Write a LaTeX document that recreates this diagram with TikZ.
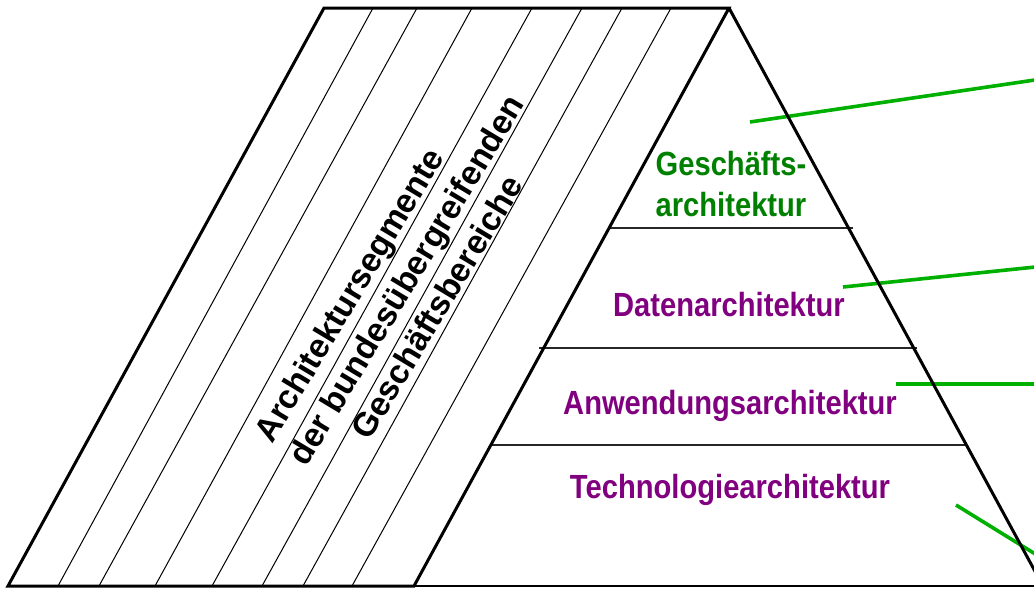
\documentclass[tikz,border=0pt]{standalone}
\usepackage{fontspec}
\setmainfont{Liberation Sans}
\definecolor{labgreen}{HTML}{008000}
\definecolor{labpurple}{HTML}{800080}
\definecolor{leadgreen}{HTML}{00B000}
\begin{document}
\begin{tikzpicture}[x=1pt,y=-1pt,
  outline/.style={line width=3pt, line join=miter, line cap=butt},
  hatch/.style={line width=1pt},
  sep/.style={line width=1.4pt, draw=black!85},
  leader/.style={line width=3.6pt, draw=leadgreen},
  lbl/.style={font=\fontsize{33.5}{40}\selectfont\bfseries, xscale=0.87, anchor=base, inner sep=0pt},
  vlbl/.style={font=\fontsize{33.5}{40}\selectfont\bfseries, rotate=59, anchor=base, inner sep=0pt}]
\useasboundingbox (0,0) rectangle (1034,589);
\clip (0,0) rectangle (1034,589);
% key points
\coordinate (bl) at (8,586);
\coordinate (tl) at (324,8);
\coordinate (apex) at (729,8);
\coordinate (tb) at (414,586);
\coordinate (rb) at (1043,586);
\coordinate (bre) at (1045,586);
% hatch lines
\foreach \b/\t in {58/373, 99/417, 155/472, 212/532, 262/582, 303/622, 352/671}
  \draw[hatch] (\b,586) -- (\t,8);
% layer separators
\coordinate (s1l) at (609,228); \coordinate (s1r) at (853,228);
\coordinate (s2l) at (539,348); \coordinate (s2r) at (917,348);
\coordinate (s3l) at (491,445); \coordinate (s3r) at (966,445);
\draw[sep] (s1l) -- (s1r);
\draw[sep] (s2l) -- (s2r);
\draw[sep] (s3l) -- (s3r);
% leader lines
\coordinate (g1a) at (750,122); \coordinate (g1b) at (1045,78.5);
\coordinate (g2a) at (843,287); \coordinate (g2b) at (1045,266);
\coordinate (g3a) at (896,384); \coordinate (g3b) at (1045,384);
\coordinate (g4a) at (956,505); \coordinate (g4b) at (1045,560);
\draw[leader] (g1a) -- (g1b);
\draw[leader] (g2a) -- (g2b);
\draw[leader] (g3a) -- (g3b);
\draw[leader] (g4a) -- (g4b);
% outlines
\draw[outline] (tb) -- (bl) -- (tl) -- (apex) -- cycle;
\draw[line width=3pt] (apex) -- (rb);
\draw[line width=2.4pt] (tb) -- (bre);
% labels in the pyramid
\node[lbl, text=labgreen] (gesch1) at (731,175) {Geschäfts-};
\node[lbl, text=labgreen] (gesch2) at (731,216) {architektur};
\node[lbl, text=labpurple] (daten) at (729,316) {Datenarchitektur};
\node[lbl, text=labpurple] (anw) at (730,414) {Anwendungsarchitektur};
\node[lbl, text=labpurple] (tech) at (730,498) {Technologiearchitektur};
% rotated labels
\node[vlbl] (seg1) at (359,301) {Architektursegmente};
\node[vlbl] (seg2) at (416,286) {der bundesübergreifenden};
\node[vlbl] (seg3) at (447,313) {Geschäftsbereiche};
\end{tikzpicture}
\end{document}
